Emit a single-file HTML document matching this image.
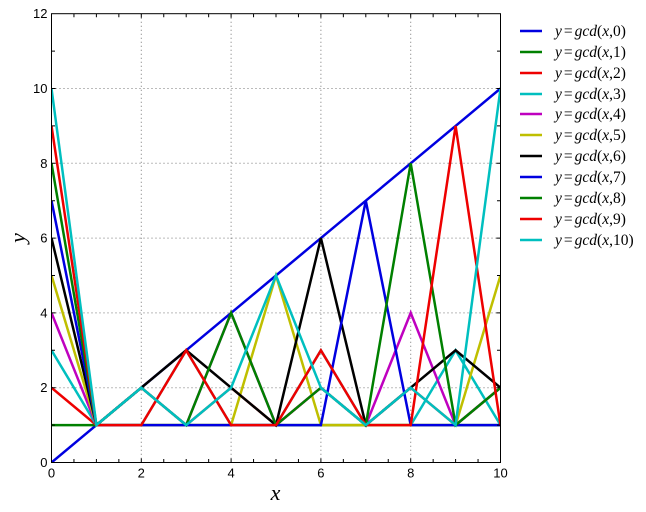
<!DOCTYPE html>
<html>
<head>
<meta charset="utf-8">
<style>
html,body{margin:0;padding:0;background:#fff;}
svg{display:block;}
.tl{font-family:"Liberation Sans","DejaVu Sans",sans-serif;font-size:13px;fill:#000;}
.lg{font-family:"Liberation Serif","DejaVu Serif",serif;font-size:15.5px;fill:#000;}
.ax{font-family:"Liberation Serif","DejaVu Serif",serif;font-size:22px;font-style:italic;fill:#000;}
.s{fill:none;stroke-width:2.5;vector-effect:non-scaling-stroke;stroke-linejoin:miter;}
</style>
</head>
<body>
<svg width="646" height="512" viewBox="0 0 646 512" xmlns="http://www.w3.org/2000/svg">
<rect x="0" y="0" width="646" height="512" fill="#fff"/>
<defs><clipPath id="c"><rect x="51.5" y="13.7" width="449" height="448.8"/></clipPath></defs>

<!-- grid -->
<g stroke="#777" stroke-width="1" stroke-dasharray="1 3" fill="none">
<path d="M141.3 13.7V462.5M231.1 13.7V462.5M320.9 13.7V462.5M410.7 13.7V462.5"/>
<path d="M51.5 387.7H500.5M51.5 312.9H500.5M51.5 238.1H500.5M51.5 163.3H500.5M51.5 88.5H500.5"/>
</g>

<!-- series -->
<g clip-path="url(#c)">
<g transform="translate(51.5,462.5) scale(44.9,-37.4)">
<polyline class="s" stroke="#0000e0" points="0,0 1,1 2,2 3,3 4,4 5,5 6,6 7,7 8,8 9,9 10,10"/>
<polyline class="s" stroke="#008000" points="0,1 1,1 2,1 3,1 4,1 5,1 6,1 7,1 8,1 9,1 10,1"/>
<polyline class="s" stroke="#ee0000" points="0,2 1,1 2,2 3,1 4,2 5,1 6,2 7,1 8,2 9,1 10,2"/>
<polyline class="s" stroke="#00bfbf" points="0,3 1,1 2,1 3,3 4,1 5,1 6,3 7,1 8,1 9,3 10,1"/>
<polyline class="s" stroke="#bf00bf" points="0,4 1,1 2,2 3,1 4,4 5,1 6,2 7,1 8,4 9,1 10,2"/>
<polyline class="s" stroke="#bfbf00" points="0,5 1,1 2,1 3,1 4,1 5,5 6,1 7,1 8,1 9,1 10,5"/>
<polyline class="s" stroke="#000000" points="0,6 1,1 2,2 3,3 4,2 5,1 6,6 7,1 8,2 9,3 10,2"/>
<polyline class="s" stroke="#0000e0" points="0,7 1,1 2,1 3,1 4,1 5,1 6,1 7,7 8,1 9,1 10,1"/>
<polyline class="s" stroke="#008000" points="0,8 1,1 2,2 3,1 4,4 5,1 6,2 7,1 8,8 9,1 10,2"/>
<polyline class="s" stroke="#ee0000" points="0,9 1,1 2,1 3,3 4,1 5,1 6,3 7,1 8,1 9,9 10,1"/>
<polyline class="s" stroke="#00bfbf" points="0,10 1,1 2,2 3,1 4,2 5,5 6,2 7,1 8,2 9,1 10,10"/>
</g>
</g>

<!-- spines -->
<rect x="51.5" y="13.7" width="449" height="448.8" fill="none" stroke="#000" stroke-width="1"/>

<!-- ticks -->
<g stroke="#000" stroke-width="1" fill="none">
<path d="M73.95 462.5v-3.5M96.4 462.5v-3.5M118.85 462.5v-3.5M141.3 462.5v-4M163.75 462.5v-3.5M186.2 462.5v-3.5M208.65 462.5v-3.5M231.1 462.5v-4M253.55 462.5v-3.5M276 462.5v-3.5M298.45 462.5v-3.5M320.9 462.5v-4M343.35 462.5v-3.5M365.8 462.5v-3.5M388.25 462.5v-3.5M410.7 462.5v-4M433.15 462.5v-3.5M455.6 462.5v-3.5M478.05 462.5v-3.5"/>
<path d="M73.95 13.7v3.5M96.4 13.7v3.5M118.85 13.7v3.5M141.3 13.7v4M163.75 13.7v3.5M186.2 13.7v3.5M208.65 13.7v3.5M231.1 13.7v4M253.55 13.7v3.5M276 13.7v3.5M298.45 13.7v3.5M320.9 13.7v4M343.35 13.7v3.5M365.8 13.7v3.5M388.25 13.7v3.5M410.7 13.7v4M433.15 13.7v3.5M455.6 13.7v3.5M478.05 13.7v3.5"/>
<path d="M51.5 425.1h3.5M51.5 387.7h4M51.5 350.3h3.5M51.5 312.9h4M51.5 275.5h3.5M51.5 238.1h4M51.5 200.7h3.5M51.5 163.3h4M51.5 125.9h3.5M51.5 88.5h4M51.5 51.1h3.5"/>
<path d="M500.5 425.1h-3.5M500.5 387.7h-4M500.5 350.3h-3.5M500.5 312.9h-4M500.5 275.5h-3.5M500.5 238.1h-4M500.5 200.7h-3.5M500.5 163.3h-4M500.5 125.9h-3.5M500.5 88.5h-4M500.5 51.1h-3.5"/>
</g>

<!-- tick labels -->
<g class="tl" text-anchor="middle">
<text x="51.5" y="477.5">0</text>
<text x="141.3" y="477.5">2</text>
<text x="231.1" y="477.5">4</text>
<text x="320.9" y="477.5">6</text>
<text x="410.7" y="477.5">8</text>
<text x="500.5" y="477.5">10</text>
</g>
<g class="tl" text-anchor="end">
<text x="47.5" y="467">0</text>
<text x="47.5" y="392.2">2</text>
<text x="47.5" y="317.4">4</text>
<text x="47.5" y="242.6">6</text>
<text x="47.5" y="167.8">8</text>
<text x="47.5" y="93">10</text>
<text x="47.5" y="18.2">12</text>
</g>

<!-- axis labels -->
<text class="ax" x="275.5" y="500" text-anchor="middle">x</text>
<text class="ax" x="0" y="0" text-anchor="middle" transform="translate(25,238) rotate(-90)">y</text>

<!-- legend -->
<g stroke-width="2.5">
<line x1="520" y1="31" x2="542" y2="31" stroke="#0000e0"/>
<line x1="520" y1="52" x2="542" y2="52" stroke="#008000"/>
<line x1="520" y1="73" x2="542" y2="73" stroke="#ee0000"/>
<line x1="520" y1="94" x2="542" y2="94" stroke="#00bfbf"/>
<line x1="520" y1="114" x2="542" y2="114" stroke="#bf00bf"/>
<line x1="520" y1="135" x2="542" y2="135" stroke="#bfbf00"/>
<line x1="520" y1="156" x2="542" y2="156" stroke="#000000"/>
<line x1="520" y1="177" x2="542" y2="177" stroke="#0000e0"/>
<line x1="520" y1="198" x2="542" y2="198" stroke="#008000"/>
<line x1="520" y1="219" x2="542" y2="219" stroke="#ee0000"/>
<line x1="520" y1="240" x2="542" y2="240" stroke="#00bfbf"/>
</g>
<g class="lg">
<text x="555" y="36"><tspan font-style="italic">y</tspan><tspan dx="2">=</tspan><tspan dx="2" font-style="italic">gcd</tspan>(<tspan font-style="italic">x</tspan>,0)</text>
<text x="555" y="57"><tspan font-style="italic">y</tspan><tspan dx="2">=</tspan><tspan dx="2" font-style="italic">gcd</tspan>(<tspan font-style="italic">x</tspan>,1)</text>
<text x="555" y="78"><tspan font-style="italic">y</tspan><tspan dx="2">=</tspan><tspan dx="2" font-style="italic">gcd</tspan>(<tspan font-style="italic">x</tspan>,2)</text>
<text x="555" y="99"><tspan font-style="italic">y</tspan><tspan dx="2">=</tspan><tspan dx="2" font-style="italic">gcd</tspan>(<tspan font-style="italic">x</tspan>,3)</text>
<text x="555" y="119"><tspan font-style="italic">y</tspan><tspan dx="2">=</tspan><tspan dx="2" font-style="italic">gcd</tspan>(<tspan font-style="italic">x</tspan>,4)</text>
<text x="555" y="140"><tspan font-style="italic">y</tspan><tspan dx="2">=</tspan><tspan dx="2" font-style="italic">gcd</tspan>(<tspan font-style="italic">x</tspan>,5)</text>
<text x="555" y="161"><tspan font-style="italic">y</tspan><tspan dx="2">=</tspan><tspan dx="2" font-style="italic">gcd</tspan>(<tspan font-style="italic">x</tspan>,6)</text>
<text x="555" y="182"><tspan font-style="italic">y</tspan><tspan dx="2">=</tspan><tspan dx="2" font-style="italic">gcd</tspan>(<tspan font-style="italic">x</tspan>,7)</text>
<text x="555" y="203"><tspan font-style="italic">y</tspan><tspan dx="2">=</tspan><tspan dx="2" font-style="italic">gcd</tspan>(<tspan font-style="italic">x</tspan>,8)</text>
<text x="555" y="224"><tspan font-style="italic">y</tspan><tspan dx="2">=</tspan><tspan dx="2" font-style="italic">gcd</tspan>(<tspan font-style="italic">x</tspan>,9)</text>
<text x="555" y="245"><tspan font-style="italic">y</tspan><tspan dx="2">=</tspan><tspan dx="2" font-style="italic">gcd</tspan>(<tspan font-style="italic">x</tspan>,10)</text>
</g>
</svg>
</body>
</html>
